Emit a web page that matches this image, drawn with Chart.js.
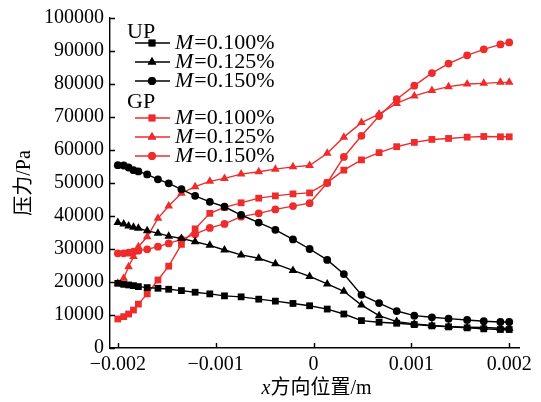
<!DOCTYPE html>
<html>
<head>
<meta charset="utf-8">
<script src="https://cdn.jsdelivr.net/npm/chart.js@4/dist/chart.umd.min.js"></script>
<style>
  body { margin: 0; background: #fff; }
  #wrap { width: 541px; height: 402px; position: relative; }
</style>
</head>
<body>
<div id="wrap"><canvas id="graph-pressao"></canvas></div>
<script>
// x positions (m) shared by all curves
const xPos = [-0.002, -0.00194, -0.00189, -0.00184, -0.00179, -0.0017, -0.00159, -0.00148, -0.00135, -0.00121,
  -0.00106, -0.00091, -0.00074, -0.00056, -0.00039, -0.00021, -0.00004, 0.00014, 0.00031, 0.00049,
  0.00067, 0.00085, 0.00103, 0.00121, 0.00138, 0.00157, 0.00174, 0.00191, 0.002];

// pressure (Pa)
const up100 = [19600, 19300, 19100, 18900, 18600, 18300, 18100, 17800, 17400, 16900, 16400, 15800, 15500, 14800, 14200,
  13500, 12800, 11800, 10300, 8300, 7800, 7500, 7100, 6700, 6400, 6100, 5800, 5600, 5600];
const up125 = [38000, 37600, 37000, 36600, 36300, 35500, 34800, 33900, 33200, 32200, 31100, 29700, 28200, 27200, 25500,
  23500, 21700, 19400, 17200, 13000, 9800, 8000, 7300, 6800, 6500, 6300, 6200, 6000, 6000];
const up150 = [55400, 55300, 54700, 53900, 53500, 52600, 51100, 49900, 48100, 46100, 44300, 42800, 40300, 38000, 35800,
  32900, 30000, 26700, 22400, 16100, 13600, 11200, 9800, 9300, 8900, 8500, 8100, 7900, 7900];
const gp100 = [8800, 9500, 10300, 11500, 13300, 16400, 20600, 24800, 31400, 36100, 40800, 42600, 44000, 45400, 46100,
  46700, 47000, 50100, 53900, 57000, 59200, 61000, 62300, 63200, 63500, 63900, 64100, 64000, 64000];
const gp125 = [19600, 21100, 24600, 27700, 30700, 33700, 39300, 43000, 46900, 48900, 50500, 51400, 52700, 53400, 54200,
  54900, 55300, 59000, 63900, 68300, 70900, 74100, 76400, 78000, 79200, 80000, 80200, 80500, 80500];
const gp150 = [28700, 28700, 28900, 29200, 29500, 29900, 30700, 31700, 32900, 34500, 36400, 37600, 39800, 40800, 42000,
  43000, 43900, 50000, 57900, 64300, 70300, 75400, 79500, 83300, 86200, 88700, 90500, 92000, 92600];

const xTicks = [-0.002, -0.001, 0, 0.001, 0.002];
const yTicks = [0, 10000, 20000, 30000, 40000, 50000, 60000, 70000, 80000, 90000, 100000];

const groups = ['UP', 'GP'];
const mLabels = ['0.100%', '0.125%', '0.150%'];

const RED = '#ee2c2c';
const BLACK = '#000000';
const SERIF = '"Liberation Serif", "DejaVu Serif", serif';
const CJK = '"Liberation Serif", "Noto Sans CJK SC", serif';

function pts(vals) {
  return vals.map((v, i) => ({ x: xPos[i], y: v }));
}

function serie(label, vals, color, style, radius) {
  return {
    label: label,
    data: pts(vals),
    borderColor: color,
    backgroundColor: color,
    borderWidth: 1.4,
    pointStyle: style,
    pointRadius: radius,
    pointBorderWidth: 0,
    pointBackgroundColor: color,
    tension: 0
  };
}

const datasets = [
  serie('UP M=0.100%', up100, BLACK, 'rect', 4.8),
  serie('UP M=0.125%', up125, BLACK, 'triangle', 5),
  serie('UP M=0.150%', up150, BLACK, 'circle', 3.9),
  serie('GP M=0.100%', gp100, RED, 'rect', 4.8),
  serie('GP M=0.125%', gp125, RED, 'triangle', 5),
  serie('GP M=0.150%', gp150, RED, 'circle', 3.9)
];

// ticks pointing into the plot
const innerTicks = {
  id: 'innerTicks',
  afterDraw(chart) {
    const ctx = chart.ctx;
    const xs = chart.scales.x, ys = chart.scales.y;
    const a = chart.chartArea;
    ctx.save();
    ctx.strokeStyle = '#000';
    ctx.lineWidth = 1.4;
    ctx.beginPath();
    yTicks.forEach(v => {
      const py = Math.round(ys.getPixelForValue(v)) + 0.5;
      ctx.moveTo(a.left, py);
      ctx.lineTo(a.left + 5, py);
    });
    xTicks.forEach(v => {
      const px = Math.round(xs.getPixelForValue(v)) + 0.5;
      ctx.moveTo(px, a.bottom);
      ctx.lineTo(px, a.bottom - 5);
    });
    ctx.stroke();
    ctx.restore();
  }
};

// grouped legend + axis titles
const extras = {
  id: 'extras',
  afterDraw(chart) {
    const ctx = chart.ctx;
    const a = chart.chartArea;
    ctx.save();
    ctx.fillStyle = '#000';
    ctx.textBaseline = 'middle';

    // legend
    const rows = [[43, 62, 81], [118, 137, 156]];
    const heads = [32, 102];
    groups.forEach((g, gi) => {
      ctx.font = '22px ' + SERIF;
      ctx.fillStyle = '#000';
      ctx.textAlign = 'left';
      ctx.fillText(g, 127, heads[gi]);
      mLabels.forEach((m, mi) => {
        const ds = chart.data.datasets[gi * 3 + mi];
        const y = rows[gi][mi];
        ctx.strokeStyle = ds.borderColor;
        ctx.lineWidth = 1.4;
        ctx.beginPath();
        ctx.moveTo(135, y);
        ctx.lineTo(170, y);
        ctx.stroke();
        ctx.fillStyle = ds.borderColor;
        Chart.helpers.drawPoint(ctx, {
          pointStyle: ds.pointStyle, radius: ds.pointRadius, rotation: 0, borderWidth: 0
        }, 152, y);
        ctx.fill();
        ctx.fillStyle = '#000';
        ctx.font = 'italic 22px ' + SERIF;
        ctx.fillText('M', 175, y);
        const w = ctx.measureText('M').width;
        ctx.font = '22px ' + SERIF;
        ctx.fillText('=' + m, 175 + w + 1, y);
      });
    });

    // x title
    ctx.font = 'italic 20px ' + SERIF;
    const t1 = 'x';
    const t2 = '方向位置/m';
    const w1 = ctx.measureText(t1).width;
    ctx.font = '20px ' + CJK;
    const w2 = ctx.measureText(t2).width;
    const cx = (a.left + a.right) / 2 + 2;
    const x0 = cx - (w1 + w2) / 2;
    ctx.font = 'italic 20px ' + SERIF;
    ctx.fillText(t1, x0, 389);
    ctx.font = '20px ' + CJK;
    ctx.fillText(t2, x0 + w1, 389);

    // y title
    ctx.translate(25, 183);
    ctx.rotate(-Math.PI / 2);
    ctx.textAlign = 'center';
    ctx.font = '20px ' + CJK;
    ctx.fillText('压力/Pa', 0, 0);
    ctx.restore();
  }
};

const ctx = document.getElementById('graph-pressao');
const chartGraph = new Chart(ctx, {
  type: 'line',
  data: { datasets: datasets },
  options: {
    responsive: true,
    maintainAspectRatio: false,
    animation: false,
    layout: { padding: { left: 0, top: 17, right: 22, bottom: 0 } },
    plugins: {
      legend: { display: false },
      tooltip: { enabled: false }
    },
    scales: {
      x: {
        type: 'linear',
        min: -0.00208,
        max: 0.0021,
        afterBuildTicks: s => { s.ticks = xTicks.map(v => ({ value: v })); },
        afterFit: s => { s.height = 54; },
        grid: { drawOnChartArea: false, drawTicks: false },
        border: { display: true, color: '#000', width: 1.4 },
        ticks: {
          padding: 5,
          color: '#000',
          font: { family: SERIF, size: 20 },
          callback: v => (v < 0 ? '\u2212' + String(-v) : String(v))
        }
      },
      y: {
        min: 0,
        max: 100000,
        afterBuildTicks: s => { s.ticks = yTicks.map(v => ({ value: v })); },
        afterFit: s => { s.width = 110; },
        grid: { drawOnChartArea: false, drawTicks: false },
        border: { display: true, color: '#000', width: 1.4 },
        ticks: {
          padding: 6,
          color: '#000',
          font: { family: SERIF, size: 20 },
          callback: v => String(v)
        }
      }
    }
  },
  plugins: [innerTicks, extras]
});
</script>
</body>
</html>
